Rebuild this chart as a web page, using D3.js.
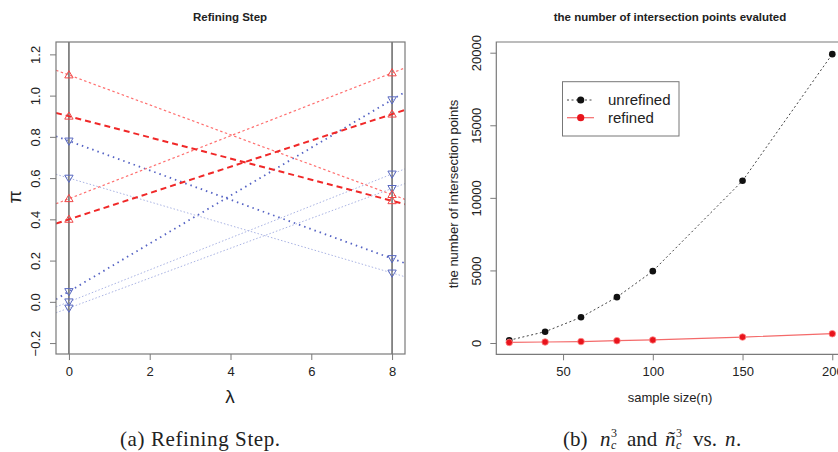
<!DOCTYPE html>
<html lang="en">
  <head>
    <meta charset="UTF-8" />
    <title>Refining Step / intersection points</title>
    <style>
      body { margin: 0; background: white; }
      text { font-family: "Liberation Sans", Arial, sans-serif; fill: #222; }
      .cap { font-family: "Liberation Serif", "Times New Roman", serif; }
    </style>
    <script src="https://d3js.org/d3.v7.min.js"></script>
  </head>
  <body>
    <div id="svg-container"></div>
    <script>
      // ---- data: left panel (values of each line at lambda = 0 and lambda = 8)
      const redThinStart = [1.1, 0.5];
      const redThinEnd = [0.52, 1.11];
      const redThickStart = [0.9, 0.4];
      const redThickEnd = [0.49, 0.91];
      const blueDarkStart = [0.78, 0.05];
      const blueDarkEnd = [0.21, 0.98];
      const blueLightStart = [0.6, 0.0, -0.03];
      const blueLightEnd = [0.14, 0.62, 0.55];
      const lambdaTicks = [0, 2, 4, 6, 8];
      const piTicks = [-0.2, 0.0, 0.2, 0.4, 0.6, 0.8, 1.0, 1.2];

      // ---- data: right panel
      const sampleSize = [20, 40, 60, 80, 100, 150, 200];
      const unrefined = [190, 780, 1770, 3160, 4950, 11175, 19900];
      const refined = [40, 70, 100, 160, 210, 410, 640];
      const nTicks = [50, 100, 150, 200];
      const countTicks = [0, 5000, 10000, 15000, 20000];

      const svg = d3
        .select("#svg-container")
        .append("svg")
        .attr("width", 838)
        .attr("height", 452);

      const boxColor = "#7a7a7a";

      // R style axis: ticks outside, labels rotated on y
      function styleAxis(g, rotate, offset) {
        g.selectAll("path").attr("stroke", boxColor).attr("stroke-width", 1);
        g.selectAll("line").attr("stroke", boxColor).attr("stroke-width", 1);
        g.selectAll("text").attr("font-size", "13px").attr("fill", "#222")
          .style("font-family", "'Liberation Sans', Arial, sans-serif");
        if (rotate) {
          g.selectAll("text")
            .attr("x", null)
            .attr("dy", "0.35em")
            .attr("text-anchor", "middle")
            .attr("transform", `translate(${offset},0) rotate(-90)`);
        } else {
          g.selectAll("text").attr("y", offset).attr("dy", "0.35em");
        }
      }

      // ================= left panel =================
      const x1 = d3.scaleLinear().domain([-0.32, 8.32]).range([56, 405]);
      const y1 = d3.scaleLinear().domain([-0.253, 1.26]).range([354, 42]);

      svg.append("defs").append("clipPath").attr("id", "clipL")
        .append("rect").attr("x", 56).attr("y", 42).attr("width", 349).attr("height", 312);

      const plotL = svg.append("g").attr("clip-path", "url(#clipL)");

      // vertical reference lines at lambda = 0 and 8
      [0, 8].forEach(function (v) {
        plotL.append("line")
          .attr("x1", x1(v)).attr("x2", x1(v))
          .attr("y1", y1.range()[0]).attr("y2", y1.range()[1])
          .attr("stroke", "#707070").attr("stroke-width", 1.6);
      });

      function drawLines(starts, ends, color, width, dash) {
        starts.forEach(function (s, i) {
          const slope = (ends[i] - s) / 8;
          const d0 = x1.domain()[0], d1 = x1.domain()[1];
          plotL.append("line")
            .attr("x1", x1(d0)).attr("y1", y1(s + slope * d0))
            .attr("x2", x1(d1)).attr("y2", y1(s + slope * d1))
            .attr("stroke", color)
            .attr("stroke-width", width)
            .attr("stroke-dasharray", dash);
        });
      }
      drawLines(blueLightStart, blueLightEnd, "#aab4e4", 1, "1.5,2");
      drawLines(blueDarkStart, blueDarkEnd, "#5563c4", 1.8, "1.5,4");
      drawLines(redThinStart, redThinEnd, "#ff6f6f", 1.2, "2.5,2.5");
      drawLines(redThickStart, redThickEnd, "#f02828", 2, "6,4");

      function drawMarkers(vals, lam, color, down) {
        vals.forEach(function (v) {
          plotL.append("path")
            .attr("d", d3.symbol().type(d3.symbolTriangle).size(30)())
            .attr("transform", `translate(${x1(lam)},${y1(v) + (down ? -0.5 : 0.5)}) rotate(${down ? 180 : 0})`)
            .attr("fill", "none")
            .attr("stroke", color)
            .attr("stroke-width", 1);
        });
      }
      const blueStarts = blueDarkStart.concat(blueLightStart);
      const blueEnds = blueDarkEnd.concat(blueLightEnd);
      const redStarts = redThinStart.concat(redThickStart);
      const redEnds = redThinEnd.concat(redThickEnd);
      drawMarkers(blueStarts, 0, "#5868c0", true);
      drawMarkers(blueEnds, 8, "#5868c0", true);
      drawMarkers(redStarts, 0, "#f04848", false);
      drawMarkers(redEnds, 8, "#f04848", false);

      // box
      svg.append("rect")
        .attr("x", 56).attr("y", 42).attr("width", 349).attr("height", 312)
        .attr("fill", "none").attr("stroke", boxColor).attr("stroke-width", 1.2);

      svg.append("g").attr("transform", "translate(0,354)")
        .call(d3.axisBottom(x1).tickValues(lambdaTicks).tickSizeOuter(0).tickSize(6).tickPadding(0))
        .call(styleAxis, false, 17)
        .select(".domain").remove();
      svg.append("g").attr("transform", "translate(56,0)")
        .call(d3.axisLeft(y1).tickValues(piTicks).tickFormat(d3.format(".1f")).tickSizeOuter(0).tickSize(6))
        .call(styleAxis, true, -21)
        .select(".domain").remove();

      svg.append("text").attr("x", 230).attr("y", 21)
        .attr("text-anchor", "middle").attr("font-size", "11.5px").attr("font-weight", "bold")
        .text("Refining Step");
      svg.append("text").attr("x", 230).attr("y", 403)
        .attr("text-anchor", "middle").attr("font-size", "19px")
        .text("λ");
      svg.append("text")
        .attr("transform", "translate(21,197) rotate(-90)")
        .attr("text-anchor", "middle").attr("font-size", "19px")
        .text("π");
      svg.append("text").attr("class", "cap").attr("x", 120).attr("y", 446)
        .attr("font-size", "21px").attr("letter-spacing", "0.6px")
        .text("(a) Refining Step.");

      // ================= right panel =================
      const x2 = d3.scaleLinear().domain([12.8, 207.2]).range([496.3, 845.2]);
      const y2 = d3.scaleLinear().domain([-778, 20737]).range([354.3, 42]);

      const line2 = d3.line()
        .x(function (d) { return x2(d[0]); })
        .y(function (d) { return y2(d[1]); });

      svg.append("path")
        .datum(d3.zip(sampleSize, unrefined))
        .attr("d", line2)
        .attr("fill", "none")
        .attr("stroke", "#444")
        .attr("stroke-width", 1)
        .attr("stroke-dasharray", "2,2.5");
      svg.append("path")
        .datum(d3.zip(sampleSize, refined))
        .attr("d", line2)
        .attr("fill", "none")
        .attr("stroke", "#f46a6a")
        .attr("stroke-width", 1.2);

      svg.selectAll(".pt-u")
        .data(d3.zip(sampleSize, unrefined))
        .join("circle")
        .attr("cx", function (d) { return x2(d[0]); })
        .attr("cy", function (d) { return y2(d[1]); })
        .attr("r", 3.3)
        .attr("fill", "#111");
      svg.selectAll(".pt-r")
        .data(d3.zip(sampleSize, refined))
        .join("circle")
        .attr("cx", function (d) { return x2(d[0]); })
        .attr("cy", function (d) { return y2(d[1]); })
        .attr("r", 3.3)
        .attr("fill", "#e8141c")
        .attr("stroke", "#f88")
        .attr("stroke-width", 0.8);

      svg.append("path")
        .attr("d", "M496.3,42 H845.2 V354.3 H496.3 Z")
        .attr("fill", "none").attr("stroke", boxColor).attr("stroke-width", 1.2);

      svg.append("g").attr("transform", "translate(0,354.3)")
        .call(d3.axisBottom(x2).tickValues(nTicks).tickSizeOuter(0).tickSize(6).tickPadding(0))
        .call(styleAxis, false, 17)
        .select(".domain").remove();
      svg.append("g").attr("transform", "translate(496.3,0)")
        .call(d3.axisLeft(y2).tickValues(countTicks).tickFormat(d3.format("d")).tickSizeOuter(0).tickSize(6))
        .call(styleAxis, true, -20)
        .select(".domain").remove();

      svg.append("text").attr("x", 670).attr("y", 21)
        .attr("text-anchor", "middle").attr("font-size", "11.5px").attr("font-weight", "bold")
        .text("the number of intersection points evaluted");
      svg.append("text").attr("x", 670).attr("y", 402)
        .attr("text-anchor", "middle").attr("font-size", "13px")
        .text("sample size(n)");
      svg.append("text")
        .attr("transform", "translate(458,194) rotate(-90)")
        .attr("text-anchor", "middle").attr("font-size", "13px")
        .text("the number of intersection points");

      // legend
      const legendNames = ["unrefined", "refined"];
      const legend = svg.append("g");
      legend.append("rect")
        .attr("x", 562.5).attr("y", 81.7).attr("width", 116.5).attr("height", 54.3)
        .attr("fill", "white").attr("stroke", "#777").attr("stroke-width", 1);
      legendNames.forEach(function (name, i) {
        const ly = 100 + i * 17.7;
        legend.append("line")
          .attr("x1", 567).attr("x2", 594).attr("y1", ly).attr("y2", ly)
          .attr("stroke", i === 0 ? "#444" : "#f46a6a")
          .attr("stroke-width", i === 0 ? 1 : 1.2)
          .attr("stroke-dasharray", i === 0 ? "2,2.5" : null);
        legend.append("circle").attr("cx", 580.7).attr("cy", ly).attr("r", 3.6)
          .attr("fill", i === 0 ? "#111" : "#e8141c");
        legend.append("text").attr("x", 608).attr("y", ly).attr("dy", "0.35em")
          .attr("font-size", "15px").text(name);
      });

      // caption (b): pieces laid out left to right
      const capB = svg.append("g").attr("class", "cap");
      function capPiece(x, y, size, italic, str) {
        capB.append("text").attr("class", "cap")
          .attr("x", x).attr("y", y)
          .attr("font-size", size + "px")
          .attr("font-style", italic ? "italic" : null)
          .text(str);
      }
      capPiece(563, 446, 21, false, "(b)");
      capPiece(600, 446, 21, true, "n");
      capPiece(611, 449, 12, true, "c");
      capPiece(611, 437, 12, false, "3");
      capPiece(627, 446, 21, false, "and");
      capPiece(665, 446, 21, true, "ñ");
      capPiece(676, 449, 12, true, "c");
      capPiece(676, 437, 12, false, "3");
      capPiece(693, 446, 21, false, "vs.");
      capPiece(725, 446, 21, true, "n");
      capPiece(736, 446, 21, false, ".");
    </script>
  </body>
</html>
